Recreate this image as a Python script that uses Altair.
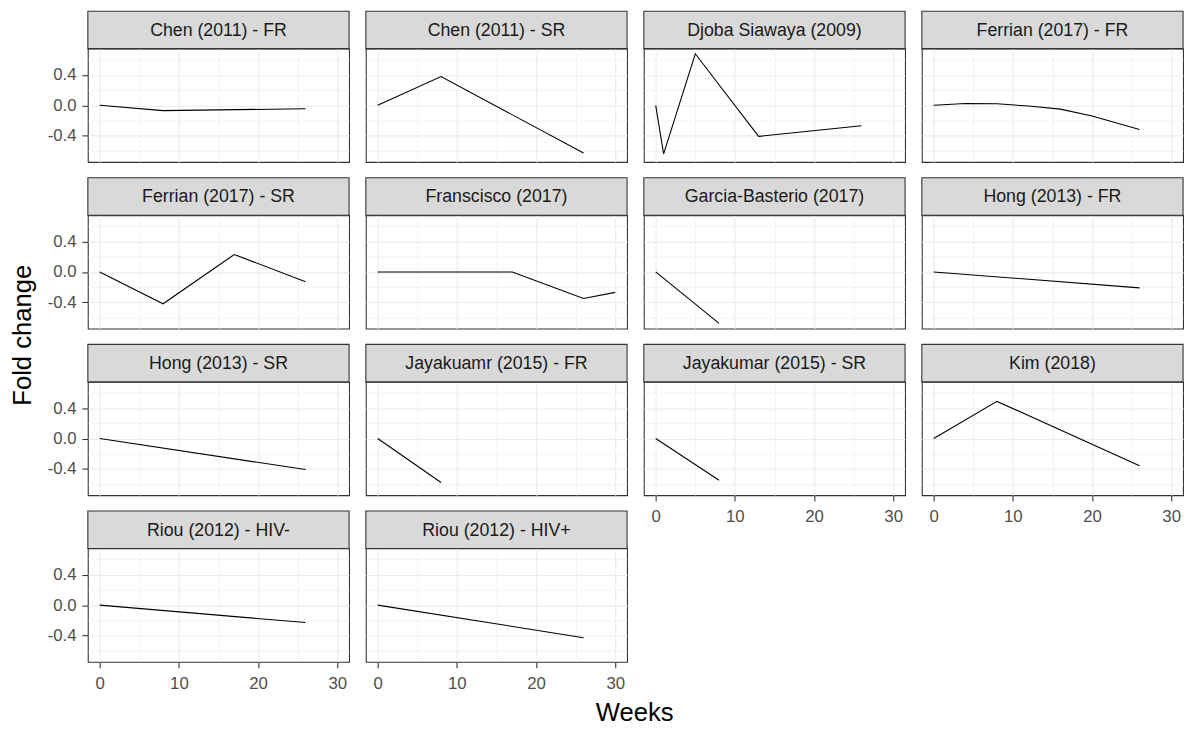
import altair as alt
import pandas as pd

panels = [
    "Chen (2011) - FR", "Chen (2011) - SR", "Djoba Siawaya (2009)", "Ferrian (2017) - FR",
    "Ferrian (2017) - SR", "Franscisco (2017)", "Garcia-Basterio (2017)", "Hong (2013) - FR",
    "Hong (2013) - SR", "Jayakuamr (2015) - FR", "Jayakumar (2015) - SR", "Kim (2018)",
    "Riou (2012) - HIV-", "Riou (2012) - HIV+",
]
weeks = [
    [0, 8, 26],
    [0, 8, 26],
    [0, 1, 5, 13, 26],
    [0, 4, 8, 12, 16, 20, 26],
    [0, 8, 17, 26],
    [0, 17, 26, 30],
    [0, 8],
    [0, 26],
    [0, 26],
    [0, 8],
    [0, 8],
    [0, 8, 26],
    [0, 26],
    [0, 26],
]
folds = [
    [0, -0.07, -0.045],
    [0, 0.38, -0.63],
    [0, -0.64, 0.68, -0.41, -0.27],
    [0, 0.025, 0.02, -0.01, -0.05, -0.14, -0.32],
    [0, -0.42, 0.23, -0.13],
    [0, 0, -0.35, -0.27],
    [0, -0.68],
    [0, -0.21],
    [0, -0.41],
    [0, -0.58],
    [0, -0.55],
    [0, 0.49, -0.36],
    [0, -0.23],
    [0, -0.43],
]
x_breaks = [0, 5, 10, 15, 20, 25, 30]
y_breaks = [-0.6, -0.4, -0.2, 0.0, 0.2, 0.4, 0.6]

records = []
for p, ws, fs in zip(panels, weeks, folds):
    for w, f in zip(ws, fs):
        records.append({"panel": p, "week": w, "fold": f})
df = pd.DataFrame(records)

all_w = [w for ws in weeks for w in ws]
all_f = [f for fs in folds for f in fs]
xe = 0.05 * (max(all_w) - min(all_w))
ye = 0.05 * (max(all_f) - min(all_f))
x_domain = [min(all_w) - xe, max(all_w) + xe]
y_domain = [min(all_f) - ye, max(all_f) + ye]

W, H, STRIP, GAP = 265, 115, 38, 13
NCOL = 4
FONT = "Liberation Sans"
LABEL_SIZE = 17
STRIP_SIZE = 18
TITLE_SIZE = 26

x_major = "(datum.value % 10 === 0)"
y_major = "(abs(datum.value) < 0.01 || abs(abs(datum.value) - 0.4) < 0.01)"


def make_axis(values, major, labels, label_expr, pad):
    common = dict(
        values=values, title=None, domain=False, grid=True, gridColor="#EBEBEB",
        gridWidth={"condition": {"test": major, "value": 1.1}, "value": 0.6},
    )
    if labels:
        return alt.Axis(
            **common,
            tickColor="#333333", tickWidth=1.1, tickSize=6,
            tickOpacity={"condition": {"test": major, "value": 1}, "value": 0},
            labelExpr=label_expr,
            labelColor="#4D4D4D", labelFont=FONT, labelFontSize=LABEL_SIZE,
            labelPadding=pad, labelFlush=False, labelOverlap=False,
        )
    return alt.Axis(**common, labels=False, ticks=False)


x_label_expr = f"{x_major} ? datum.label : ''"
y_label_expr = (f"{y_major} ? (datum.value < -0.001 ? '-' + format(-datum.value, '.1f') "
                f": format(abs(datum.value), '.1f')) : ''")


def panel(i):
    name = panels[i]
    col = i % NCOL
    n_in_col = len([j for j in range(len(panels)) if j % NCOL == col])
    is_bottom = (i // NCOL) == n_in_col - 1
    xa = make_axis(x_breaks, x_major, is_bottom, x_label_expr, 8)
    ya = make_axis(y_breaks, y_major, col == 0, y_label_expr, 6)
    line = alt.Chart().mark_line(color="black", strokeWidth=1.1).encode(
        x=alt.X("week:Q", scale=alt.Scale(domain=x_domain, nice=False, zero=False), axis=xa),
        y=alt.Y("fold:Q", scale=alt.Scale(domain=y_domain, nice=False, zero=False), axis=ya),
    )
    strip_rect = alt.Chart().mark_rect(fill="#D9D9D9", stroke="#333333", strokeWidth=1.1).encode(
        x=alt.value(0), x2=alt.value(W), y=alt.value(-STRIP), y2=alt.value(0)
    ).transform_aggregate(n="count()", groupby=["panel"])
    strip_text = alt.Chart().mark_text(
        font=FONT, fontSize=STRIP_SIZE, color="#1A1A1A", baseline="middle", align="center"
    ).encode(
        x=alt.value(W / 2), y=alt.value(-STRIP / 2 + 1), text="panel:N"
    ).transform_aggregate(n="count()", groupby=["panel"])
    return alt.layer(line, strip_rect, strip_text).transform_filter(
        alt.datum.panel == name
    ).properties(width=W, height=H)


columns = []
for c in range(NCOL):
    idxs = [j for j in range(len(panels)) if j % NCOL == c]
    columns.append(alt.vconcat(*[panel(j) for j in idxs], spacing=GAP))

inner = alt.hconcat(*columns, spacing=GAP).properties(
    title=alt.TitleParams("Fold change", orient="left", anchor="middle", font=FONT,
                          fontSize=TITLE_SIZE, fontWeight="normal", color="black",
                          offset=11, dx=16)
)

chart = alt.vconcat(inner, data=df).properties(
    title=alt.TitleParams("Weeks", orient="bottom", anchor="middle", font=FONT,
                          fontSize=TITLE_SIZE, fontWeight="normal", color="black",
                          offset=8, dx=38),
    padding={"left": 2, "top": -4, "right": 2, "bottom": 2},
).configure_view(stroke="#333333", strokeWidth=1.1)

chart.save("out.html", embed_options={"renderer": "svg", "actions": False})
